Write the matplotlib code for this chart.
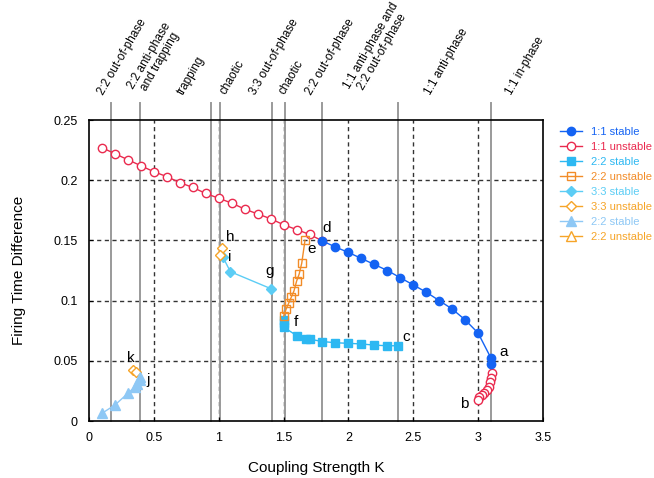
import matplotlib
matplotlib.use("Agg")
import matplotlib.pyplot as plt
import numpy as np

plt.rcParams['font.family'] = ['Liberation Sans', 'DejaVu Sans']

# ---------------- data ----------------
k11s = [1.8, 1.9, 2.0, 2.1, 2.2, 2.3, 2.4, 2.5, 2.6, 2.7, 2.8, 2.9, 3.0, 3.1, 3.1]
y11s = [0.1495, 0.1445, 0.140, 0.135, 0.130, 0.125, 0.119, 0.113, 0.107, 0.100,
        0.093, 0.084, 0.073, 0.052, 0.047]

k11u = [0.1, 0.2, 0.3, 0.4, 0.5, 0.6, 0.7, 0.8, 0.9, 1.0, 1.1, 1.2, 1.3, 1.4,
        1.5, 1.6, 1.7, 1.8]
y11u = [0.227, 0.222, 0.217, 0.212, 0.207, 0.203, 0.198, 0.194, 0.189, 0.185,
        0.181, 0.176, 0.172, 0.168, 0.163, 0.159, 0.155, 0.1495]

k11u_b = [3.105, 3.1, 3.09, 3.08, 3.065, 3.045, 3.03, 3.01, 3.0]
y11u_b = [0.0396, 0.036, 0.032, 0.0285, 0.0257, 0.0235, 0.0216, 0.0197, 0.0174]

k22s = [1.5, 1.5, 1.5, 1.6, 1.67, 1.7, 1.8, 1.9, 2.0, 2.1, 2.2, 2.3, 2.38]
y22s = [0.084, 0.081, 0.078, 0.071, 0.068, 0.068, 0.066, 0.065, 0.0645, 0.064,
        0.063, 0.0625, 0.0625]

k22u = [1.50, 1.52, 1.54, 1.56, 1.58, 1.60, 1.62, 1.64, 1.665]
y22u = [0.087, 0.093, 0.098, 0.103, 0.108, 0.116, 0.122, 0.131, 0.150]

k33s = [1.03, 1.09, 1.40]
y33s = [0.1366, 0.124, 0.110]

k33u = [1.023, 1.01]
y33u = [0.1434, 0.138]

k33u_k = [0.342, 0.362]
y33u_k = [0.0424, 0.041]

k22s_t = [0.1, 0.2, 0.3, 0.355, 0.373, 0.39, 0.395]
y22s_t = [0.0064, 0.0133, 0.023, 0.0285, 0.031, 0.034, 0.0368]

k22u_t = []
y22u_t = []

region_lines = [0.17, 0.39, 0.94, 1.01, 1.41, 1.51, 1.80, 2.38, 3.10]
region_labels = ["2:2 out-of-phase", "2:2 anti-phase\nand trapping", "trapping",
                 "chaotic", "3:3 out-of-phase", "chaotic", "2:2 out-of-phase",
                 "1:1 anti-phase and\n2:2 out-of-phase", "1:1 anti-phase",
                 "1:1 in-phase"]
region_label_x = [0.11, 0.42, 0.73, 1.05, 1.28, 1.51, 1.715, 2.09, 2.63, 3.255]

point_labels = ["a", "b", "c", "d", "e", "f", "g", "h", "i", "j", "k"]
point_label_k = [3.2, 2.89, 2.444, 1.835, 1.72, 1.596, 1.395, 1.087, 1.087, 0.455, 0.324]
point_label_y = [0.0573, 0.0141, 0.0698, 0.160, 0.143, 0.082, 0.1246, 0.153, 0.136, 0.034, 0.052]

xticks = [0, 0.5, 1, 1.5, 2, 2.5, 3, 3.5]
xticklabels = ["0", "0.5", "1", "1.5", "2", "2.5", "3", "3.5"]
yticks = [0, 0.05, 0.1, 0.15, 0.2, 0.25]
yticklabels = ["0", "0.05", "0.1", "0.15", "0.2", "0.25"]

# ---------------- colours ----------------
c11s = '#1463f3'
c11u = '#ea2a4e'
c22s = '#2db8f2'
c22u = '#f28c28'
c33s = '#5ccdf5'
c33u = '#f6a428'
c22t = '#8ec8f5'
c22ut = '#f6a428'

fig = plt.figure(figsize=(6.54, 4.78), dpi=100)
ax = fig.add_axes([89/654, 1-421/478, (543-89)/654, (421-120)/478])

ax.set_xlim(0, 3.5)
ax.set_ylim(0, 0.25)

# grid
for x in [0.5, 1, 1.5, 2, 2.5, 3]:
    ax.axvline(x, color='#333333', lw=1.0, ls=(0, (3, 2.5)), zorder=1)
for y in [0.05, 0.1, 0.15, 0.2]:
    ax.axhline(y, color='#333333', lw=1.0, ls=(0, (3, 2.5)), zorder=1)

# region lines extending above axes
for x in region_lines:
    ax.axvline(x, ymin=0, ymax=1.056, color='#9a9a9a', lw=1.4, zorder=1.5,
               clip_on=False)

for lab, x in zip(region_labels, region_label_x):
    ax.text(x, 1.083, lab, transform=ax.get_xaxis_transform(), rotation=60,
            rotation_mode='anchor', ha='left', va='baseline',
            multialignment='center', fontsize=8.5, color='black',
            linespacing=1.05)

ms = 6
ax.plot(k11u, y11u, '-o', color=c11u, mfc='white', mec=c11u, ms=ms, lw=1,
        label='1:1 unstable', zorder=3)
ax.plot(k11u_b, y11u_b, '-o', color=c11u, mfc='white', mec=c11u, ms=ms, lw=1,
        zorder=3)
ax.plot(k11s, y11s, '-o', color=c11s, mfc=c11s, mec=c11s, ms=ms, lw=1,
        label='1:1 stable', zorder=4)
ax.plot(k22s, y22s, '-s', color=c22s, mfc=c22s, mec=c22s, ms=5.5, lw=1,
        label='2:2 stable', zorder=3)
ax.plot(k22u, y22u, '-s', color=c22u, mfc='none', mec=c22u, ms=5.5, lw=1,
        label='2:2 unstable', zorder=3)
ax.plot(k33s, y33s, '-D', color=c33s, mfc=c33s, mec=c33s, ms=5, lw=1,
        label='3:3 stable', zorder=3)
ax.plot(k33u, y33u, '-D', color=c33u, mfc='white', mec=c33u, ms=5, lw=1,
        label='3:3 unstable', zorder=3)
ax.plot(k33u_k, y33u_k, '-D', color=c33u, mfc='white', mec=c33u, ms=5, lw=1,
        zorder=3)
ax.plot(k22s_t, y22s_t, '-^', color=c22t, mfc=c22t, mec=c22t, ms=6.5, lw=1,
        label='2:2 stable', zorder=3)
ax.plot(k22u_t, y22u_t, '-^', color=c22ut, mfc='white', mec=c22ut, ms=6.5, lw=1,
        label='2:2 unstable', zorder=3)

for lab, x, y in zip(point_labels, point_label_k, point_label_y):
    ax.text(x, y, lab, fontsize=11, ha='center', va='center', color='black')

ax.set_xticks(xticks)
ax.set_xticklabels(xticklabels)
ax.set_yticks(yticks)
ax.set_yticklabels(yticklabels)
ax.tick_params(direction='in', length=3, labelsize=9, pad=8, top=False, right=False)
for s in ax.spines.values():
    s.set_linewidth(1.2)

ax.set_xlabel('Coupling Strength K', fontsize=11, labelpad=12)
ax.set_ylabel('Firing Time Difference', fontsize=11, labelpad=20)

handles, labels = ax.get_legend_handles_labels()
hs = [handles[1], handles[0]] + handles[2:]
ls = [labels[1], labels[0]] + labels[2:]
leg = fig.legend(hs, ls, loc='upper left', bbox_to_anchor=(560/654, 1-127/478),
                 frameon=False, fontsize=8, handlelength=2.0,
                 handletextpad=0.8, labelspacing=0.45, borderaxespad=0,
                 borderpad=0)
for txt, h in zip(leg.get_texts(), hs):
    txt.set_color(h.get_color())

fig.savefig('out.png', dpi=100)
